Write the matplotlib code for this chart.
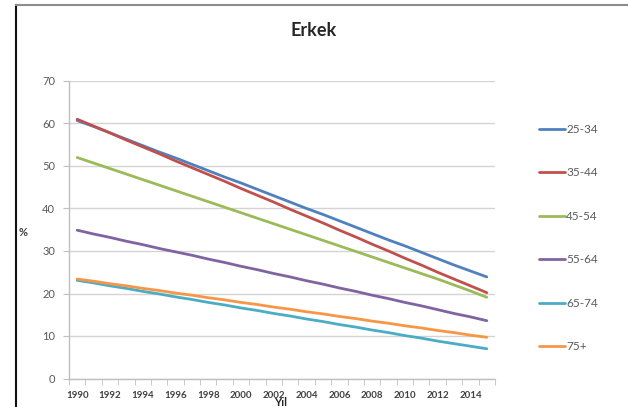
import numpy as np
import matplotlib
matplotlib.use("Agg")
import matplotlib.pyplot as plt
from matplotlib.lines import Line2D

plt.rcParams['font.family'] = ['Lato', 'DejaVu Sans']

years = list(range(1990, 2016))
age_groups = ["25-34", "35-44", "45-54", "55-64", "65-74", "75+"]

rate_25_34 = [60.7, 59.3, 57.8, 56.3, 54.8, 53.3, 51.9, 50.4, 48.9, 47.4, 46.0,
              44.5, 43.0, 41.5, 40.0, 38.6, 37.1, 35.6, 34.1, 32.6, 31.2,
              29.7, 28.2, 26.7, 25.3, 23.9]
rate_35_44 = [61.0, 59.4, 57.8, 56.1, 54.5, 52.9, 51.2, 49.6, 48.0, 46.4, 44.7,
              43.1, 41.5, 39.8, 38.2, 36.6, 34.9, 33.3, 31.6, 30.0, 28.3,
              26.7, 25.0, 23.4, 21.8, 20.2]
rate_45_54 = [52.0, 50.7, 49.4, 48.1, 46.8, 45.5, 44.2, 42.9, 41.6, 40.3, 39.0,
              37.7, 36.4, 35.1, 33.8, 32.5, 31.2, 29.9, 28.6, 27.3, 26.0,
              24.7, 23.4, 22.0, 20.6, 19.1]
rate_55_64 = [34.9, 34.0, 33.2, 32.3, 31.5, 30.6, 29.8, 29.0, 28.1, 27.3, 26.4,
              25.6, 24.7, 23.9, 23.0, 22.2, 21.3, 20.5, 19.6, 18.8, 17.9,
              17.1, 16.2, 15.3, 14.5, 13.6]
rate_65_74 = [23.1, 22.5, 21.8, 21.2, 20.5, 19.9, 19.2, 18.6, 17.9, 17.3, 16.6,
              16.0, 15.3, 14.7, 14.0, 13.4, 12.7, 12.1, 11.4, 10.8, 10.1,
              9.5, 8.8, 8.2, 7.6, 7.0]
rate_75_plus = [23.4, 22.9, 22.3, 21.8, 21.2, 20.7, 20.1, 19.6, 19.0, 18.5, 17.9,
                17.4, 16.8, 16.3, 15.7, 15.2, 14.6, 14.1, 13.5, 13.0, 12.4,
                11.9, 11.3, 10.8, 10.2, 9.7]

series = [rate_25_34, rate_35_44, rate_45_54, rate_55_64, rate_65_74, rate_75_plus]
colors = ["#4F81BD", "#C0504D", "#9BBB59", "#8064A2", "#4BACC6", "#F79646"]

tick_years = list(range(1990, 2015, 2))

fig = plt.figure(figsize=(6.28, 4.07), dpi=100)
ax = fig.add_axes([69 / 628, 1 - 378.5 / 407, (495 - 69) / 628, (378.5 - 81) / 407])

for vals, col, lab in zip(series, colors, age_groups):
    ax.plot(years, vals, color=col, lw=2.0, label=lab, solid_capstyle='round')

ax.set_xlim(1989.5, 2015.5)
ax.set_ylim(0, 70)
ax.set_yticks(range(0, 71, 10))
ax.set_xticks(tick_years)
ax.set_xticks(np.arange(1989.5, 2016, 1.0), minor=True)

ax.grid(axis='y', color='#D4D4D4', lw=1)
ax.set_axisbelow(True)
for s in ('top', 'right'):
    ax.spines[s].set_visible(False)
for s in ('left', 'bottom'):
    ax.spines[s].set_color('#BFBFBF')
    ax.spines[s].set_linewidth(1)

ax.tick_params(axis='y', which='major', length=4, color='#BFBFBF',
               labelsize=8, labelcolor='#595959', pad=6)
ax.tick_params(axis='x', which='major', length=0, labelsize=7,
               labelcolor='#404040', pad=9)
ax.tick_params(axis='x', which='minor', length=4, color='#BFBFBF')
for t in ax.get_xticklabels():
    t.set_fontweight('bold')

fig.text(314 / 628, 1 - 30 / 407, "Erkek", ha='center', va='center',
         fontsize=13, fontweight='bold', color='#262626')
fig.text(23 / 628, 1 - 232 / 407, "%", ha='center', va='center',
         fontsize=8, fontweight='bold', color='#404040')
fig.text(281 / 628, 1 - 403 / 407, "Yıl", ha='center', va='center',
         fontsize=8, fontweight='bold', color='#262626')

leg = ax.legend(loc='upper left', bbox_to_anchor=(533 / 628, 1 - 118 / 407),
                bbox_transform=fig.transFigure, frameon=False, fontsize=8.5,
                labelspacing=2.75, handlelength=2.2, handletextpad=0.1,
                borderpad=0, labelcolor='#595959')

# outer frame
fig.add_artist(Line2D([15.5 / 628, 15.5 / 628], [0, 1 - 5 / 407],
                      transform=fig.transFigure, color='#111111', lw=1.5))
fig.add_artist(Line2D([15.5 / 628, 1.0], [1 - 5 / 407, 1 - 5 / 407],
                      transform=fig.transFigure, color='#8C8C8C', lw=1.5))

fig.savefig("out.png", dpi=100)
